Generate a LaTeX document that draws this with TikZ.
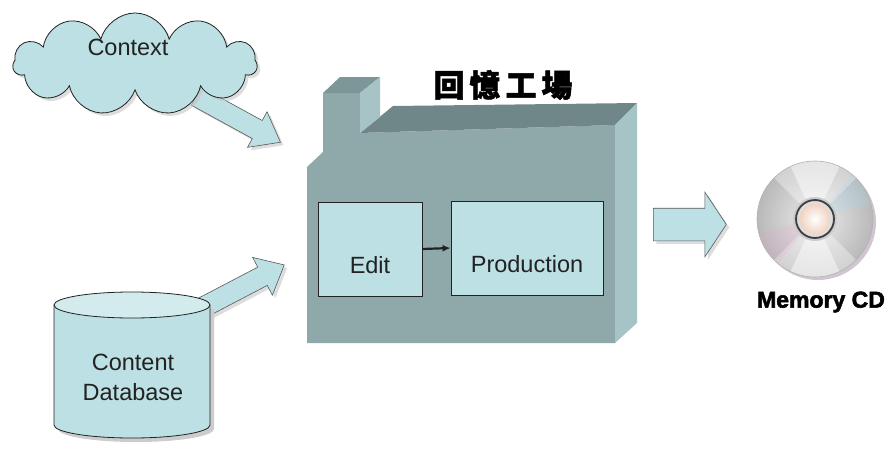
\documentclass[tikz,border=0pt]{standalone}
\usepackage{fontspec}
\setmainfont{Liberation Sans}
\newfontfamily\cjkfont{Noto Sans CJK TC}[BoldFeatures={FakeBold=1.6}]
\newfontfamily\heavyfont{Liberation Sans}[BoldFeatures={FakeBold=2.4}]
\usetikzlibrary{shapes.symbols,shapes.arrows,shadows,arrows.meta}

\definecolor{pale}{HTML}{BCE0E3}
\definecolor{paletop}{HTML}{D3EBED}
\definecolor{ink}{HTML}{222222}
\definecolor{front}{HTML}{8FA8AA}
\definecolor{roof}{HTML}{6F8788}
\definecolor{sideface}{HTML}{A6C3C5}
\definecolor{chtop}{HTML}{7D9698}
\definecolor{peach}{HTML}{F0D2C2}

\tikzset{
  lbl/.style={font=\fontsize{23.5}{30}\selectfont, text=ink, align=center, inner sep=0pt},
  softshadow/.style={drop shadow={shadow xshift=3pt, shadow yshift=-3pt, fill=gray!45, opacity=.6}},
  blockarrow/.style={single arrow, draw=ink!75, fill=pale, line width=0.6pt,
    minimum width=0pt, text height=0pt, text depth=0pt, inner xsep=0pt,
    single arrow head indent=0pt, softshadow},
  stagebox/.style={draw=ink, fill=pale, line width=0.8pt, inner xsep=0pt, inner ysep=0pt,
    text height=71pt, text depth=23pt, font=\fontsize{23.5}{28}\selectfont, text=ink},
}

\begin{document}
\begin{tikzpicture}[x=1pt,y=-1pt]
\useasboundingbox (0,0) rectangle (895,450);

% ---- block arrows feeding the factory (drawn first, sources overlap them)
\node[blockarrow, rotate=-28.7, anchor=tail, minimum height=96pt, inner ysep=10pt,
      single arrow head extend=10pt, single arrow tip angle=75] (ctxarrow) at (196,96) {};
\node[blockarrow, rotate=27.6, anchor=tail, minimum height=97pt, inner ysep=10pt,
      single arrow head extend=11pt, single arrow tip angle=82] (dbarrow) at (198,310) {};

% ---- context cloud
\node[cloud, cloud puffs=11, aspect=2.4, draw=ink, fill=pale, line width=0.8pt,
      minimum width=244pt, minimum height=102pt, inner sep=0pt, softshadow] (cloud) at (135,64) {};
\node[lbl] (ctxtext) at (128,47) {Context};

% ---- content database cylinder
\fill[gray!40] (58,309) -- (58,429) arc[start angle=180, end angle=360, x radius=78pt, y radius=13pt] -- (214,309) -- cycle;
\fill[pale] (54,305) -- (54,425) arc[start angle=180, end angle=360, x radius=78pt, y radius=13pt] -- (210,305) -- cycle;
\draw[ink, line width=0.8pt] (54,305) -- (54,425) arc[start angle=180, end angle=360, x radius=78pt, y radius=13pt] -- (210,305);
\draw[ink, line width=0.8pt, fill=paletop] (132,305) ellipse [x radius=78pt, y radius=13pt];
\node[lbl] (dbtext) at (133,377) {Content\\Database};

% ---- factory building
\fill[front] (307,343) -- (307,167) -- (323,152) -- (323,93) -- (360,93) -- (360,133)
             -- (615,125) -- (615,343) -- cycle;
\fill[roof] (360,133) -- (393,106) -- (637,103) -- (615,125) -- cycle;
\fill[sideface] (615,125) -- (637,103) -- (637,323) -- (615,343) -- cycle;
\fill[chtop] (323,93) -- (340,77) -- (380,77) -- (360,93) -- cycle;
\fill[sideface] (360,93) -- (380,77) -- (380,117) -- (360,133) -- cycle;

\node[font=\cjkfont\bfseries\fontsize{31}{31}\selectfont, inner sep=0pt] (title) at (503,85)
  {回\hspace{5pt}憶\hspace{5pt}工\hspace{5pt}場};

\node[stagebox, minimum width=104pt] (edit) at (370,249) {Edit};
\node[stagebox, minimum width=152pt] (production) at (527,248) {Production};
\draw[-{Latex[length=8pt,width=7pt]}, line width=2.2pt, ink] (edit.east) -- (production.west);

% ---- output arrow
\node[blockarrow, anchor=tail, minimum height=73pt, inner ysep=16pt,
      single arrow head extend=16pt, single arrow tip angle=113] (outarrow) at (653,224.5) {};

% ---- memory CD
\coordinate (cd) at (815,219);
\fill[violet!30!gray!35] ([shift={(3pt,-3pt)}]cd) circle (58pt);
\shade[inner color=gray!15, outer color=gray!55] (cd) circle (58pt);
\fill[white, opacity=.35] (cd) -- ++(45:58pt) arc[start angle=45, end angle=135, radius=58pt] -- cycle;
\fill[white, opacity=.45] (cd) -- ++(65:58pt) arc[start angle=65, end angle=115, radius=58pt] -- cycle;
\fill[white, opacity=.35] (cd) -- ++(225:58pt) arc[start angle=225, end angle=315, radius=58pt] -- cycle;
\fill[white, opacity=.45] (cd) -- ++(245:58pt) arc[start angle=245, end angle=295, radius=58pt] -- cycle;
\fill[cyan!40, opacity=.18] (cd) -- ++(15:58pt) arc[start angle=15, end angle=50, radius=58pt] -- cycle;
\fill[magenta!40, opacity=.15] (cd) -- ++(195:58pt) arc[start angle=195, end angle=230, radius=58pt] -- cycle;
\draw[gray!60, line width=0.6pt] (cd) circle (58pt);
\fill[gray!40] (cd) circle (22pt);
\draw[black!75, line width=1.8pt] (cd) circle (19pt);
\fill[gray!25] (cd) circle (17.5pt);
\shade[inner color=white, outer color=peach] (cd) circle (15.5pt);

\node[font=\heavyfont\bfseries\fontsize{23}{26}\selectfont, inner sep=0pt] (cdlabel) at (821,302) {Memory CD};
\end{tikzpicture}
\end{document}
